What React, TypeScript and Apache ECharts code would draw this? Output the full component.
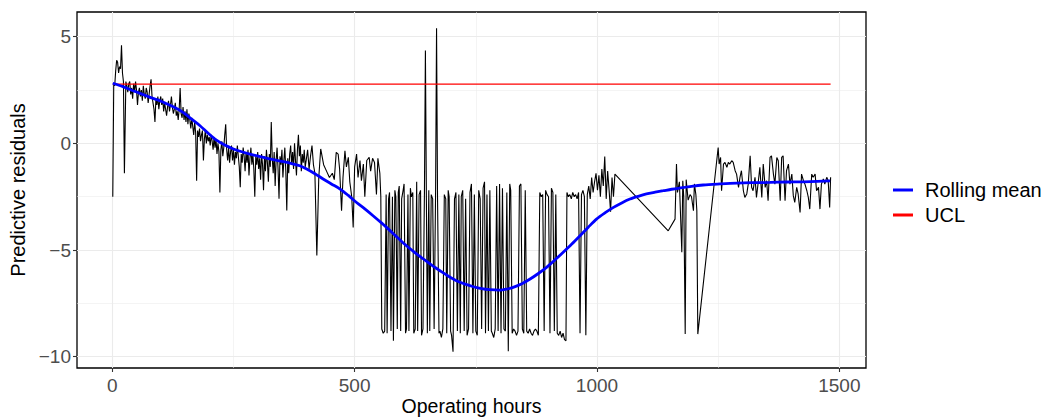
import { useEffect, useRef } from "react";
import * as echarts from "echarts";

const FONT = '"Liberation Sans", Arial, Helvetica, sans-serif';

const xTicks = [0, 500, 1000, 1500];
const xMinorTicks = [250, 750, 1250];
const yTicks = [-10, -5, 0, 5];
const yMinorTicks = [-7.5, -2.5, 2.5];

const xTitle = "Operating hours";
const yTitle = "Predictive residuals";
const legendNames = ["Rolling mean", "UCL"];

const uclValue = 2.78;
const uclStart = 1;
const uclEnd = 1482;

// Rolling mean (smoothed)
const rollingMean: [number, number][] = [
  [1, 2.82], [22, 2.66], [43, 2.47], [60, 2.32], [78, 2.16], [95, 2.03], [112, 1.86], [129, 1.68],
  [146, 1.45], [163, 1.15], [181, 0.83], [198, 0.47], [215, 0.15], [232, -0.08], [250, -0.26],
  [267, -0.39], [284, -0.5], [301, -0.6], [318, -0.69], [335, -0.77], [353, -0.86], [370, -0.95],
  [387, -1.05], [401, -1.2], [418, -1.42], [435, -1.67], [452, -1.9], [470, -2.14], [487, -2.44],
  [504, -2.77], [521, -3.07], [538, -3.39], [556, -3.74], [573, -4.09], [590, -4.45], [607, -4.8],
  [625, -5.13], [642, -5.42], [659, -5.71], [676, -5.97], [693, -6.22], [710, -6.44], [728, -6.6],
  [745, -6.72], [762, -6.81], [779, -6.86], [800, -6.88], [814, -6.83], [827, -6.75], [845, -6.58],
  [862, -6.36], [879, -6.1], [896, -5.81], [913, -5.47], [930, -5.11], [948, -4.72], [965, -4.33],
  [982, -3.93], [999, -3.55], [1017, -3.25], [1034, -3.0], [1051, -2.79], [1068, -2.61], [1085, -2.48],
  [1102, -2.37], [1120, -2.29], [1137, -2.22], [1154, -2.15], [1171, -2.09], [1195, -2.01],
  [1219, -1.95], [1254, -1.9], [1288, -1.86], [1323, -1.84], [1357, -1.83], [1392, -1.81],
  [1426, -1.8], [1455, -1.78], [1481, -1.76],
];

// Predictive residuals, phase by phase: [operating hours, residual]
const warmupPhase: [number, number][] = [
  [1, -2.5], [3, 2.8], [5, 2.7], [7, 3.4], [9, 3.9], [11, 3.8], [13, 3.3], [15, 3.6], [17, 3.5],
  [19, 4.6], [21, 3.3], [23, 2.9], [25, -1.4], [28, 2.9], [30, 2.7], [32, 2.4], [34, 2.8],
  [36, 2.9], [38, 2.3], [40, 2.6], [42, 2.1], [44, 2.8], [46, 2.4], [48, 2.9], [50, 2.5],
  [52, 1.8], [54, 2.4], [56, 2.6], [58, 2.2], [60, 2.5], [62, 2.0], [64, 2.7], [66, 2.3],
  [68, 2.1], [70, 2.6], [72, 2.4], [74, 1.9], [76, 2.3], [78, 2.7], [80, 3.0], [82, 2.2],
  [84, 1.9], [86, 1.6], [88, 1.0], [90, 2.1], [92, 1.8], [94, 2.2], [96, 1.6], [98, 2.0],
];

const earlyDecline: [number, number][] = [
  [100, 2.2], [102, 1.8], [104, 2.1], [106, 1.5], [108, 1.9], [110, 1.6], [112, 1.3], [114, 1.7],
  [116, 2.0], [118, 1.5], [120, 1.8], [122, 2.2], [124, 1.7], [126, 1.4], [128, 1.6], [130, 1.9],
  [132, 1.3], [134, 1.5], [136, 1.1], [138, 1.6], [140, 2.6], [142, 1.4], [144, 1.2], [146, 1.7],
  [148, 1.1], [150, 1.5], [152, 1.0], [154, 1.6], [156, 0.9], [158, 1.4], [160, 1.1], [162, 0.7],
  [164, 1.2], [166, 0.8], [168, 0.4], [170, 1.0], [172, 0.5], [174, -1.75], [176, 0.6], [178, 0.3],
  [180, 0.7], [182, 0.1], [184, 0.4], [186, 0.6], [188, -0.8], [190, 0.2], [192, 0.6], [194, 0.0],
  [196, 0.4], [198, 0.1],
  [200, 0.3], [202, -0.1], [204, 0.4], [206, 0.1], [208, -0.3], [210, 0.3], [212, -0.2], [214, 0.2],
  [216, -0.5], [218, 0.0], [220, -0.4], [222, -2.3], [224, -0.3], [226, 0.1], [228, -0.6], [230, -0.2],
  [232, 0.4], [234, 0.9], [236, -0.3], [238, -0.8], [240, -0.2], [242, -0.9], [244, -0.4], [246, -0.1],
  [248, -0.8], [250, -0.3], [252, -1.0], [254, -0.4], [256, -0.7], [258, -0.1], [260, -0.6], [262, -1.1],
  [264, -2.06], [266, -0.5], [268, -0.9], [270, -0.2], [272, -0.6], [274, -1.3], [276, -0.4], [278, -0.9],
  [280, -0.3], [282, -1.5], [284, -0.7], [286, -0.2], [288, -1.0], [290, -0.5], [292, -1.2], [294, -2.5],
  [296, -0.6], [298, -1.0],
];

const midDecline: [number, number][] = [
  [300, -0.4], [302, -1.2], [304, -0.7], [306, -1.7], [308, -0.5], [310, -1.0], [312, -2.2], [314, -0.6],
  [316, -1.3], [318, -0.3], [320, -0.9], [322, -1.8], [324, -0.5], [326, -1.1], [328, 1.0], [330, -0.7],
  [332, -1.4], [334, -0.4], [336, -2.0], [338, -0.8], [340, -0.2], [342, -1.2], [344, -2.6], [346, -0.6],
  [348, -1.0], [350, -0.3], [352, -1.6], [354, -0.8], [356, -0.2], [358, -1.3], [360, -3.15], [362, -0.7],
  [364, -1.4], [366, -0.5], [368, -0.1], [370, -1.0], [372, -0.4], [374, -1.2], [376, 0.0], [378, -0.8],
  [380, -1.5], [382, -0.3], [384, 0.4], [386, -0.6], [388, -0.1], [390, -1.3], [392, -0.5], [394, -0.9],
  [396, -0.3], [398, -1.1],
  [400, -0.8], [403, -0.3], [406, -1.2], [409, -0.6], [412, -0.1], [415, -1.0], [418, -1.4], [422, -5.26],
  [426, -1.6], [430, -0.26], [436, -1.0], [442, -1.3], [448, -1.6], [454, -1.4], [458, -1.7], [462, -0.42],
  [466, -0.5], [469, -1.2], [473, -3.16], [476, -1.6], [480, -0.35], [483, -1.1], [487, -0.65], [490, -1.8],
  [494, -2.5], [497, -3.94], [500, -1.1], [504, -0.5], [507, -1.6], [511, -0.8], [514, -1.75], [518, -0.97],
  [521, -2.5], [525, -0.8], [530, -0.65], [533, -1.3], [537, -0.7], [541, -0.9], [545, -2.4], [548, -0.7],
  [552, -1.4], [554, -2.5],
];

const unstablePhase: [number, number][] = [
  [556, -8.7], [559, -8.9], [562, -8.8], [565, -2.4], [567, -8.9], [570, -2.6], [572, -2.3], [575, -8.8],
  [578, -2.5], [580, -9.25], [583, -2.2], [585, -2.5], [588, -8.7], [590, -2.3], [592, -2.0], [595, -8.8],
  [597, -2.6], [600, -2.2], [602, -1.9], [605, -8.9], [607, -8.7], [610, -2.4], [612, -8.8], [615, -2.1],
  [617, -2.5], [620, -2.3], [622, -8.9], [625, -8.7], [628, -1.8], [630, -8.8], [633, -2.4], [636, -2.2],
  [638, -9.0], [641, -8.7], [644, -2.3], [646, 4.35], [648, -2.5], [650, -8.9], [653, -2.2], [655, -8.8],
  [658, -2.4], [661, -2.6], [664, -8.7], [667, -2.3], [669, 5.4], [671, -2.5], [674, -8.9], [676, -8.8],
  [679, -9.1], [682, -8.7], [685, -2.4], [688, -2.6], [690, -8.9], [693, -2.2], [695, -2.5], [698, -8.8],
  [700, -9.0], [703, -9.77], [706, -2.6], [709, -2.3], [712, -8.8], [715, -2.4], [718, -8.9], [720, -2.5],
  [723, -2.2], [726, -8.8], [729, -2.6], [732, -9.0], [735, -8.7], [738, -2.3], [741, -1.9], [744, -8.9],
  [747, -2.4], [750, -8.8], [753, -9.0], [756, -2.2], [759, -2.6], [762, -8.7], [765, -2.1], [768, -1.8],
  [770, -8.9], [773, -2.4], [776, -8.8], [779, -2.2], [782, -8.8], [784, -8.9], [787, -9.1], [790, -8.7],
  [793, -2.0], [796, -8.8], [799, -1.9], [802, -8.9], [805, -2.1], [808, -8.7], [811, -8.8], [814, -2.3],
  [817, -9.75], [820, -1.9], [822, -2.2], [825, -8.9], [828, -8.7], [831, -8.8], [834, -9.0], [837, -8.8],
  [840, -2.0], [843, -1.9], [846, -8.7], [849, -8.9], [852, -2.2], [855, -8.8], [858, -8.9], [861, -8.7],
  [864, -8.9], [867, -9.0], [870, -8.8], [873, -8.7], [876, -8.8], [879, -9.0], [882, -2.3], [885, -2.5],
  [888, -2.4], [891, -8.8], [894, -2.2], [897, -2.4], [900, -2.5], [903, -8.9], [906, -2.1], [909, -2.3],
  [912, -8.8], [915, -2.4], [918, -8.9], [921, -9.0], [924, -8.8], [927, -9.1], [930, -8.9], [933, -9.2],
  [936, -9.25], [938, -2.3], [941, -2.5], [944, -2.4], [947, -2.6], [950, -2.3], [953, -2.5], [956, -2.4],
  [959, -2.6], [962, -2.3], [965, -8.9], [968, -2.4], [971, -2.2], [974, -2.5], [977, -9.0], [980, -2.4],
  [983, -2.0], [986, -2.6], [989, -1.6], [992, -2.3], [995, -1.8], [998, -1.4], [1001, -2.2], [1004, -1.5],
  [1007, -2.5], [1010, -1.2], [1013, -2.0], [1016, -0.62], [1019, -2.6], [1022, -1.3], [1025, -2.2],
  [1028, -3.2], [1031, -1.6], [1034, -2.5], [1037, -1.44],
];

const recoveryPhase: [number, number][] = [
  [1147, -4.1], [1161, -3.55], [1164, -0.97], [1166, -2.3], [1170, -1.8], [1175, -5.1], [1177, -1.75],
  [1179, -2.5], [1182, -8.94], [1184, -1.7], [1188, -2.66], [1192, -2.4], [1195, -2.5], [1199, -3.16],
  [1201, -1.9], [1204, -2.4], [1206, -3.16], [1208, -8.94],
];

const steadyPhase: [number, number][] = [
  [1250, -0.19], [1252, -0.97], [1255, -0.66], [1257, -2.22], [1261, -0.97], [1264, -0.89], [1268, -1.12],
  [1271, -0.89], [1274, -0.97], [1278, -0.81], [1281, -0.89], [1285, -1.28], [1288, -1.44], [1292, -2.06],
  [1295, -1.59], [1298, -1.28], [1302, -2.22], [1305, -2.53], [1309, -2.37], [1312, -1.91], [1316, -0.58],
  [1319, -2.06], [1322, -2.22], [1326, -1.59], [1329, -2.53], [1333, -1.75], [1336, -1.12], [1340, -2.53],
  [1343, -0.97], [1347, -2.06], [1350, -1.75], [1353, -2.69], [1357, -0.66], [1360, -0.58], [1364, -1.44],
  [1367, -1.91], [1371, -0.66], [1374, -0.81], [1378, -2.69], [1381, -0.66], [1384, -0.58], [1388, -2.69],
  [1391, -1.28], [1395, -0.97], [1398, -1.91], [1402, -1.44], [1405, -2.45], [1408, -2.77], [1412, -2.06],
  [1415, -2.37], [1419, -3.24], [1422, -1.44], [1426, -1.75], [1429, -1.91], [1433, -2.22], [1436, -2.53],
  [1439, -3.08], [1443, -1.44], [1446, -1.59], [1450, -1.44], [1453, -2.22], [1457, -2.06], [1460, -3.08],
  [1463, -1.91], [1467, -1.67], [1470, -1.91], [1474, -1.59], [1477, -1.75], [1480, -3.0], [1482, -1.59],
];

const X_MIN = -72.8;
const X_MAX = 1555;
const Y_MIN = -10.53;
const Y_MAX = 6.16;

const fmtNum = (v: number) => (v < 0 ? "\u2212" + Math.abs(v) : String(v));

export default function App() {
  const ref = useRef<HTMLDivElement>(null);

  useEffect(() => {
    if (!ref.current) return;
    const chart = echarts.init(ref.current, null, { renderer: "svg" });

    const residuals = [
      ...warmupPhase,
      ...earlyDecline,
      ...midDecline,
      ...unstablePhase,
      ...recoveryPhase,
      ...steadyPhase,
    ];

    const majorStyle = { color: "#ebebeb", width: 1.1, type: "solid" as const };
    const minorStyle = { color: "#ebebeb", width: 0.55, type: "solid" as const };
    const gridLines = [
      ...xMinorTicks.map((v) => ({ xAxis: v, lineStyle: minorStyle })),
      ...yMinorTicks.map((v) => ({ yAxis: v, lineStyle: minorStyle })),
      ...xTicks.map((v) => ({ xAxis: v, lineStyle: majorStyle })),
      ...yTicks.map((v) => ({ yAxis: v, lineStyle: majorStyle })),
    ];

    const option: any = {
      animation: false,
      backgroundColor: "#ffffff",
      grid: {
        left: 77,
        top: 12,
        width: 789,
        height: 356,
        show: true,
        borderColor: "#000000",
        borderWidth: 1.3,
        containLabel: false,
        outerBoundsMode: "none",
      },
      xAxis: {
        type: "value",
        min: X_MIN,
        max: X_MAX,
        axisLine: { show: false, onZero: false },
        axisTick: {
          show: true,
          customValues: xTicks,
          length: 4,
          lineStyle: { color: "#333333", width: 1.1 },
        },
        axisLabel: {
          customValues: xTicks,
          formatter: (v: number) => fmtNum(v),
          color: "#4d4d4d",
          fontSize: 19,
          fontFamily: FONT,
          margin: 8,
        },
        splitLine: { show: false },
        name: xTitle,
        nameLocation: "middle",
        nameGap: 27,
        nameMoveOverlap: false,
        nameTextStyle: {
          color: "#000000",
          fontSize: 19.5,
          fontFamily: FONT,
          verticalAlign: "top",
          lineHeight: 21,
        },
      },
      yAxis: {
        type: "value",
        min: Y_MIN,
        max: Y_MAX,
        axisLine: { show: false, onZero: false },
        axisTick: {
          show: true,
          customValues: yTicks,
          length: 4,
          lineStyle: { color: "#333333", width: 1.1 },
        },
        axisLabel: {
          customValues: yTicks,
          formatter: (v: number) => fmtNum(v),
          color: "#4d4d4d",
          fontSize: 19,
          fontFamily: FONT,
          margin: 6,
        },
        splitLine: { show: false },
        name: yTitle,
        nameLocation: "middle",
        nameGap: 45,
        nameTextStyle: { color: "#000000", fontSize: 20, fontFamily: FONT },
      },
      series: [
        {
          name: "gridlines",
          type: "line",
          data: [],
          silent: true,
          z: 1,
          markLine: {
            silent: true,
            symbol: ["none", "none"],
            label: { show: false },
            z: 1,
            animation: false,
            data: gridLines,
          },
        },
        {
          name: "Predictive residuals",
          type: "line",
          data: residuals,
          showSymbol: false,
          symbol: "none",
          silent: true,
          z: 2,
          lineStyle: { color: "#000000", width: 1.1 },
        },
        {
          name: legendNames[1],
          type: "line",
          data: [
            [uclStart, uclValue],
            [uclEnd, uclValue],
          ],
          showSymbol: false,
          symbol: "none",
          silent: true,
          z: 3,
          lineStyle: { color: "#ff0000", width: 1.3 },
        },
        {
          name: legendNames[0],
          type: "line",
          data: rollingMean,
          smooth: 0.3,
          showSymbol: false,
          symbol: "none",
          silent: true,
          z: 4,
          lineStyle: { color: "#0000ff", width: 2.8 },
        },
      ],
      graphic: [
        {
          type: "line",
          shape: { x1: 893, y1: 190, x2: 913, y2: 190 },
          style: { stroke: "#0000ff", lineWidth: 3 },
        },
        {
          type: "text",
          x: 925,
          y: 190,
          style: {
            text: legendNames[0],
            fontSize: 20,
            fontFamily: FONT,
            fill: "#000000",
            verticalAlign: "middle",
            align: "left",
          },
        },
        {
          type: "line",
          shape: { x1: 893, y1: 215, x2: 913, y2: 215 },
          style: { stroke: "#ff0000", lineWidth: 3 },
        },
        {
          type: "text",
          x: 925,
          y: 215,
          style: {
            text: legendNames[1],
            fontSize: 20,
            fontFamily: FONT,
            fill: "#000000",
            verticalAlign: "middle",
            align: "left",
          },
        },
      ],
    };

    chart.setOption(option);
    return () => chart.dispose();
  }, []);

  return (
    <div
      ref={ref}
      style={{
        position: "fixed",
        left: 0,
        top: 0,
        width: 1045,
        height: 417,
        background: "#ffffff",
      }}
    />
  );
}
